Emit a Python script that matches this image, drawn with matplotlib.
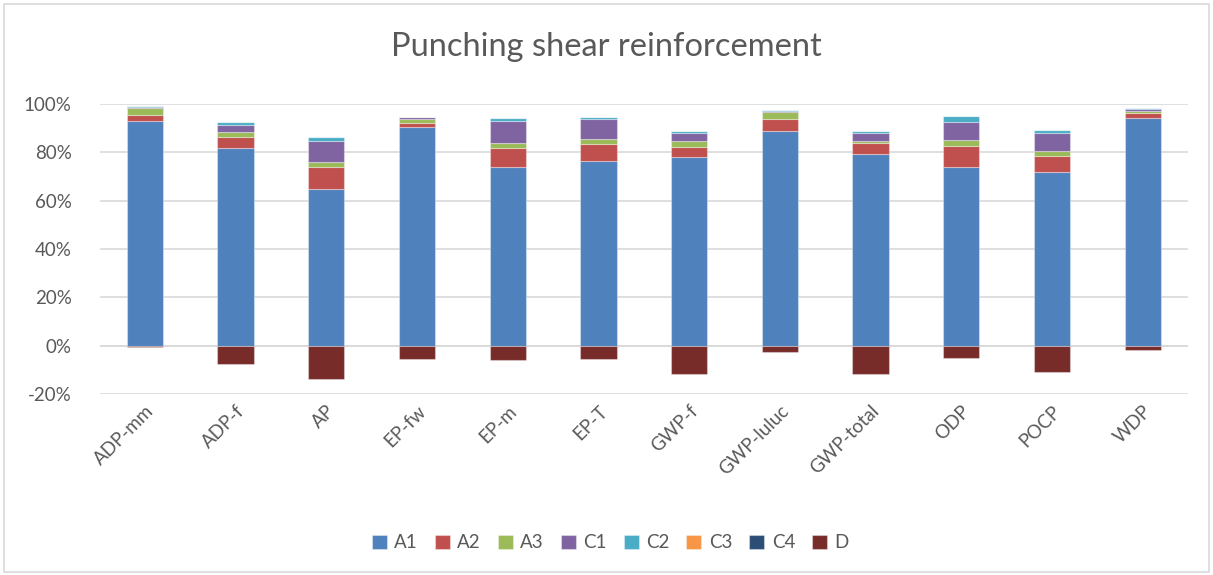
import matplotlib
matplotlib.use("Agg")
import matplotlib.pyplot as plt
from matplotlib.patches import Rectangle
import numpy as np

categories = ["ADP-mm", "ADP-f", "AP", "EP-fw", "EP-m", "EP-T",
              "GWP-f", "GWP-luluc", "GWP-total", "ODP", "POCP", "WDP"]

# shares in percent
A1 = [92.8, 81.8, 64.9, 90.3, 73.9, 76.5, 78.0, 88.8, 79.3, 73.9, 71.7, 94.4]
A2 = [2.5, 4.4, 9.0, 1.7, 7.7, 7.1, 4.4, 5.2, 4.5, 8.8, 6.9, 1.7]
A3 = [3.0, 2.2, 2.3, 1.9, 2.4, 2.0, 2.1, 2.8, 0.7, 2.5, 1.9, 1.1]
C1 = [0.3, 3.1, 8.7, 0.7, 9.1, 8.0, 3.3, 0.4, 3.3, 7.5, 7.7, 0.7]
C2 = [0.7, 1.0, 1.3, 0.2, 1.2, 1.1, 1.0, 0.5, 1.0, 2.3, 1.2, 0.6]
C3 = [0.0] * 12
C4 = [0.0] * 12
D = [-0.5, -7.7, -14.0, -5.7, -6.0, -5.6, -11.6, -2.6, -11.6, -5.2, -11.0, -1.8]

series = [("A1", A1, "#4F81BD"), ("A2", A2, "#C0504D"), ("A3", A3, "#9BBB59"),
          ("C1", C1, "#8064A2"), ("C2", C2, "#4BACC6"), ("C3", C3, "#F79646"),
          ("C4", C4, "#2C4D75"), ("D", D, "#772C2A")]

plt.rcParams["font.family"] = ["Lato", "DejaVu Sans"]
TXT = "#595959"

fig = plt.figure(figsize=(12.13, 5.75), dpi=100)
ax = fig.add_axes([0.0821, 0.3148, 0.8973, 0.5043])

x = np.arange(len(categories))
pos = np.zeros(len(categories))
neg = np.zeros(len(categories))
for name, vals, col in series:
    v = np.array(vals)
    bottom = np.where(v >= 0, pos, neg)
    ax.bar(x, v, 0.4, bottom=bottom, color=col, label=name,
           edgecolor=(1, 1, 1, 0.35), linewidth=0.8, zorder=3)
    pos += np.where(v >= 0, v, 0)
    neg += np.where(v < 0, v, 0)

ax.set_xlim(-0.5, len(categories) - 0.5)
ax.set_ylim(-20, 100)
ax.set_yticks(range(-20, 101, 20))
ax.set_yticklabels([f"{t}%" for t in range(-20, 101, 20)])
ax.yaxis.grid(True, color="#D9D9D9", linewidth=1.2, zorder=0)
ax.axhline(0, color="#D9D9D9", linewidth=1.2, zorder=1)
for s in ax.spines.values():
    s.set_visible(False)
ax.tick_params(axis="both", length=0, colors=TXT, labelsize=13.5)
ax.tick_params(axis="y", pad=20)
ax.set_xticks(x)
ax.set_xticklabels(categories, rotation=45, ha="right", rotation_mode="anchor")
ax.tick_params(axis="x", pad=6)

fig.text(0.5, 0.918, "Punching shear reinforcement", ha="center", va="center",
         fontsize=23.5, color=TXT)

fig.legend(loc="center", bbox_to_anchor=(0.503, 0.056), ncol=8, frameon=False,
           fontsize=13.5, labelcolor=TXT, handlelength=0.8, handleheight=0.8,
           columnspacing=0.9, handletextpad=0.4)

fig.patches.append(Rectangle((0.003, 0.006), 0.994, 0.987, transform=fig.transFigure,
                             fill=False, edgecolor="#D9D9D9", linewidth=1.2))

fig.savefig("out.png", dpi=100, facecolor="white")
